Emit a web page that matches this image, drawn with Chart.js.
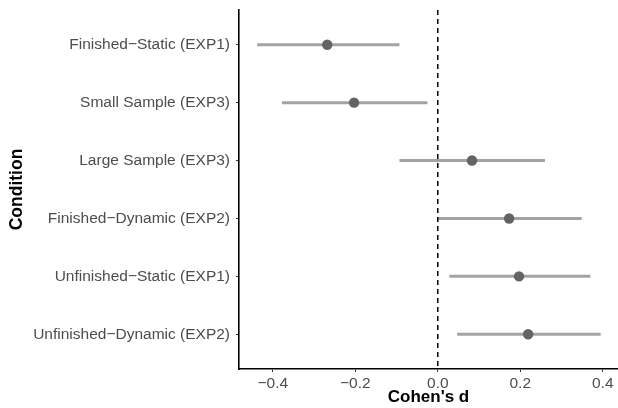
<!DOCTYPE html>
<html>
<head>
<meta charset="utf-8">
<script src="https://cdn.jsdelivr.net/npm/chart.js@4/dist/chart.umd.min.js"></script>
<style>
  html, body { margin: 0; padding: 0; background: #fff; }
  #wrap { width: 618px; height: 408px; position: relative; }
</style>
</head>
<body>
<div id="wrap"><canvas id="forest"></canvas></div>
<script>
// Effect sizes per condition (top to bottom)
const conditions = [
    'Finished\u2212Static (EXP1)',
    'Small Sample (EXP3)',
    'Large Sample (EXP3)',
    'Finished\u2212Dynamic (EXP2)',
    'Unfinished\u2212Static (EXP1)',
    'Unfinished\u2212Dynamic (EXP2)'
];
const estimate = [-0.268, -0.203, 0.083, 0.173, 0.197, 0.219];
const lower = [-0.438, -0.378, -0.093, 0.001, 0.028, 0.047];
const upper = [-0.093, -0.025, 0.260, 0.349, 0.370, 0.395];
const xTicks = [-0.4, -0.2, 0.0, 0.2, 0.4];

const font = "'Liberation Sans', Arial, Helvetica, sans-serif";

document.addEventListener('DOMContentLoaded', function() {
    const ctx = document.getElementById('forest').getContext('2d');

    // one line per confidence interval
    const ciSets = conditions.map((c, i) => ({
        type: 'line',
        data: [{ x: lower[i], y: i + 1 }, { x: upper[i], y: i + 1 }],
        borderColor: '#a3a3a3',
        borderWidth: 3,
        borderCapStyle: 'butt',
        pointRadius: 0,
        order: 2
    }));

    new Chart(ctx, {
        type: 'scatter',
        data: {
            datasets: [
                {
                    type: 'line',
                    data: [{ x: 0, y: 0.4 }, { x: 0, y: 6.6 }],
                    borderColor: '#000',
                    borderWidth: 1.5,
                    borderDash: [5, 4],
                    pointRadius: 0,
                    order: 0
                },
                {
                    data: estimate.map((e, i) => ({ x: e, y: i + 1 })),
                    backgroundColor: '#636363',
                    borderColor: '#636363',
                    pointRadius: 5.2,
                    borderWidth: 0,
                    order: 1
                },
                ...ciSets
            ]
        },
        options: {
            responsive: true,
            maintainAspectRatio: false,
            animation: false,
            layout: { autoPadding: false, padding: { top: 10, right: 0, left: 0, bottom: 0 } },
            plugins: {
                legend: { display: false },
                tooltip: { enabled: false }
            },
            scales: {
                x: {
                    type: 'linear',
                    min: -0.482,
                    max: 0.437,
                    afterBuildTicks: function(scale) {
                        scale.ticks = xTicks.map(v => ({ value: v }));
                    },
                    afterFit: function(scale) {
                        scale.height = 39;
                        scale.paddingLeft = 0;
                        scale.paddingRight = 0;
                    },
                    ticks: {
                        color: '#4d4d4d',
                        font: { family: font, size: 15.5 },
                        padding: 2,
                        callback: function(value) {
                            return value.toFixed(1).replace('-', '\u2212');
                        }
                    },
                    grid: {
                        drawOnChartArea: false,
                        drawTicks: true,
                        tickLength: 3,
                        color: '#333'
                    },
                    border: { display: true, color: '#000', width: 1.6 },
                    title: {
                        display: true,
                        text: "Cohen's d",
                        color: '#000',
                        font: { family: font, size: 17, weight: 'bold' },
                        padding: { top: -4, bottom: 0 }
                    }
                },
                y: {
                    type: 'linear',
                    reverse: true,
                    min: 0.4,
                    max: 6.6,
                    afterBuildTicks: function(scale) {
                        scale.ticks = conditions.map((c, i) => ({ value: i + 1 }));
                    },
                    afterFit: function(scale) {
                        scale.width = 239;
                        scale.paddingTop = 0;
                        scale.paddingBottom = 0;
                    },
                    ticks: {
                        color: '#4d4d4d',
                        font: { family: font, size: 15.5 },
                        padding: 6,
                        callback: function(value) {
                            return conditions[Math.round(value) - 1];
                        }
                    },
                    grid: {
                        drawOnChartArea: false,
                        drawTicks: true,
                        tickLength: 3,
                        color: '#333'
                    },
                    border: { display: true, color: '#000', width: 1.6 },
                    title: {
                        display: true,
                        text: 'Condition',
                        color: '#000',
                        font: { family: font, size: 17.5, weight: 'bold' },
                        padding: { top: 7, bottom: 0 }
                    }
                }
            }
        }
    });
});
</script>
</body>
</html>
